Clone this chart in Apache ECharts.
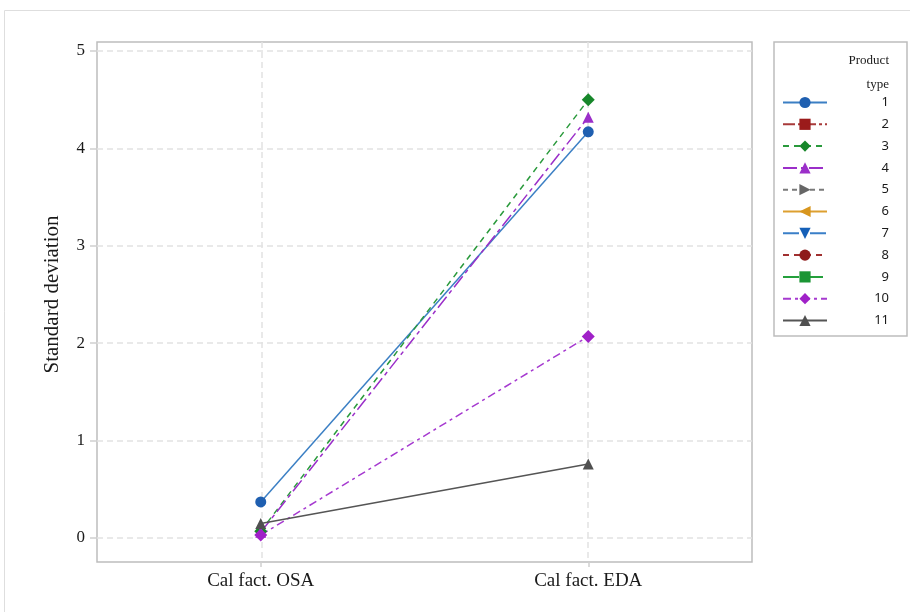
<!DOCTYPE html>
<html>
<head>
<meta charset="utf-8">
<script src="https://cdn.jsdelivr.net/npm/echarts@6/dist/echarts.min.js"></script>
<style>
  html, body { margin: 0; padding: 0; background: #fff; }
  #chart { width: 910px; height: 612px; }
</style>
</head>
<body>
<div id="chart"></div>
<script>
// Measurement groups on the x axis
const categories = ['Cal fact. OSA', 'Cal fact. EDA'];

// Product types shown in the legend
const productTypes = ['1', '2', '3', '4', '5', '6', '7', '8', '9', '10', '11'];

// Standard deviation per product type (OSA, EDA); empty = no measurements
const sd1 = [0.37, 4.17];
const sd2 = [];
const sd3 = [0.07, 4.50];
const sd4 = [0.06, 4.32];
const sd5 = [];
const sd6 = [];
const sd7 = [];
const sd8 = [];
const sd9 = [];
const sd10 = [0.03, 2.07];
const sd11 = [0.15, 0.76];

// Y axis tick values
const yTicks = [0, 1, 2, 3, 4, 5];

const seriesData = [sd1, sd2, sd3, sd4, sd5, sd6, sd7, sd8, sd9, sd10, sd11];

// Visual style per product type
const styles = [
  { color: '#1f5fb0', line: '#3b7fc4', dash: 'solid',           symbol: 'circle',   rot: 0 },
  { color: '#9b1b1b', line: '#a83a3a', dash: [12, 3, 3, 3],     symbol: 'rect',     rot: 0 },
  { color: '#17872a', line: '#2a9a3c', dash: [6, 5],            symbol: 'diamond',  rot: 0 },
  { color: '#9b2fc9', line: '#9b2fc9', dash: [14, 4, 4, 4],     symbol: 'triangle', rot: 0 },
  { color: '#666666', line: '#7a7a7a', dash: [5, 4],            symbol: 'triangle', rot: -90 },
  { color: '#d8961e', line: '#dda030', dash: 'solid',           symbol: 'triangle', rot: 90 },
  { color: '#1560b8', line: '#3a7fc8', dash: [16, 4, 3, 4],     symbol: 'triangle', rot: 180 },
  { color: '#8e1a1a', line: '#a03030', dash: [6, 5],            symbol: 'circle',   rot: 0 },
  { color: '#1b9534', line: '#24a03c', dash: [16, 8],           symbol: 'rect',     rot: 0 },
  { color: '#a021c8', line: '#a63ad0', dash: [8, 4, 3, 4],      symbol: 'diamond',  rot: 0 },
  { color: '#505050', line: '#555555', dash: 'solid',           symbol: 'triangle', rot: 0 }
];

const serif = 'Liberation Serif';
const gridColor = '#e2e2e2';

const series = productTypes.map((name, i) => ({
  name: name,
  type: 'line',
  xAxisIndex: 0,
  yAxisIndex: 0,
  data: seriesData[i],
  symbol: styles[i].symbol,
  symbolRotate: styles[i].rot,
  symbolSize: styles[i].symbol === 'diamond' ? 13 : 11,
  itemStyle: { color: styles[i].color },
  lineStyle: { color: styles[i].line, width: 1.5, type: styles[i].dash },
  emphasis: { disabled: true },
  animation: false,
  z: 10
}));

const chart = echarts.init(document.getElementById('chart'), null, { renderer: 'canvas' });

chart.setOption({
  backgroundColor: '#ffffff',
  animation: false,
  grid: [
    // data area: spans exactly 0..5
    { left: 97, right: 158, top: 51, bottom: 74 },
    // plot frame
    { left: 97, right: 158, top: 42, bottom: 50, show: true, borderColor: '#bdbdbd', borderWidth: 1.5, backgroundColor: 'transparent' },
    // vertical reference lines through the category centres
    { left: 262, right: 322, top: 42, bottom: 50 }
  ],
  xAxis: [
    {
      gridIndex: 0, type: 'category', data: categories, boundaryGap: true,
      axisLine: { show: false }, axisTick: { show: false }, axisLabel: { show: false },
      splitLine: { show: false }
    },
    {
      gridIndex: 1, type: 'category', data: categories, boundaryGap: true,
      axisLine: { show: false },
      axisTick: { show: true, alignWithLabel: true, length: 5, lineStyle: { color: '#cfcfcf', width: 1.5 } },
      axisLabel: { fontFamily: serif, fontSize: 19, color: '#1a1a1a', margin: 10 },
      splitLine: { show: false }
    },
    {
      gridIndex: 2, type: 'value', min: 0, max: 1, interval: 1,
      axisLine: { show: false }, axisTick: { show: false }, axisLabel: { show: false },
      splitLine: { show: true, lineStyle: { color: gridColor, width: 1.5, type: [6, 4] } }
    }
  ],
  yAxis: [
    {
      gridIndex: 0, type: 'value', min: yTicks[0], max: yTicks[yTicks.length - 1], interval: 1,
      name: 'Standard deviation', nameLocation: 'middle', nameGap: 34,
      nameTextStyle: { fontFamily: serif, fontSize: 21, color: '#1a1a1a' },
      axisLine: { show: false },
      axisTick: { show: true, length: 7, lineStyle: { color: '#cfcfcf', width: 1.5 } },
      axisLabel: { fontFamily: serif, fontSize: 17, color: '#1a1a1a', margin: 12 },
      splitLine: { show: true, lineStyle: { color: gridColor, width: 1.5, type: [6, 4] } }
    },
    { gridIndex: 1, type: 'value', show: false, splitLine: { show: false } },
    { gridIndex: 2, type: 'value', show: false, splitLine: { show: false } }
  ],
  legend: {
    orient: 'vertical',
    left: 774, top: 42,
    padding: [54, 18, 9, 8],
    itemWidth: 44, itemHeight: 14, itemGap: 8.8,
    borderColor: '#bdbdbd', borderWidth: 1.5,
    data: productTypes,
    selectedMode: false,
    formatter: '{n|{name}}',
    textStyle: {
      fontFamily: 'Noto Sans', fontSize: 13, color: '#1a1a1a',
      rich: { n: { width: 57, align: 'right', fontFamily: 'Noto Sans', fontSize: 13, lineHeight: 14 } }
    }
  },
  graphic: [
    {
      type: 'rect', silent: true,
      shape: { x: 4.5, y: 10.5, width: 920, height: 620 },
      style: { fill: null, stroke: '#dedede', lineWidth: 1 }
    },
    {
      type: 'text', silent: true, x: 889, y: 54,
      style: { text: 'Product', textAlign: 'right', font: '13px "Liberation Serif"', fill: '#1a1a1a' }
    },
    {
      type: 'text', silent: true, x: 889, y: 78,
      style: { text: 'type', textAlign: 'right', font: '13px "Liberation Serif"', fill: '#1a1a1a' }
    }
  ],
  series: series
});
</script>
</body>
</html>
